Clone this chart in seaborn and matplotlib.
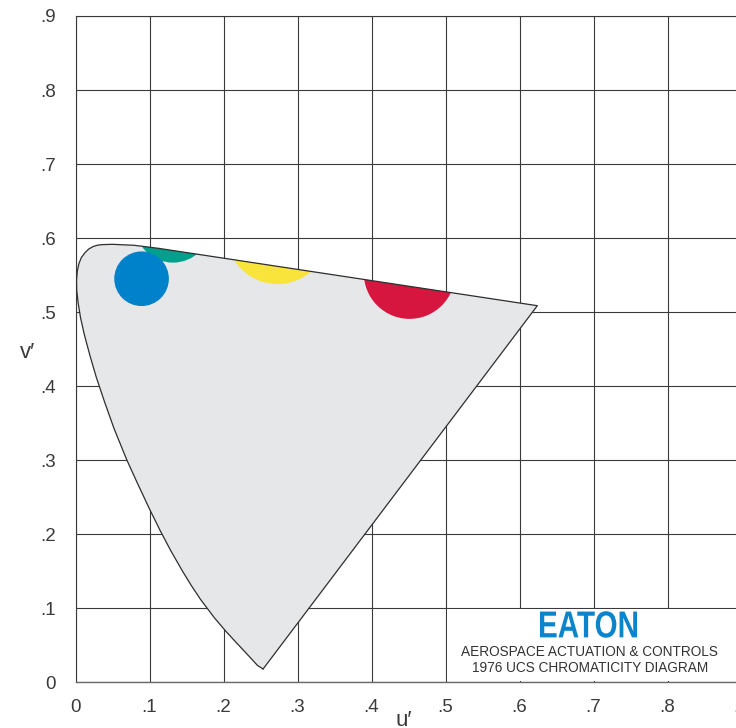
import matplotlib
matplotlib.use("Agg")
import matplotlib.pyplot as plt
from matplotlib.patches import Polygon, Circle, Rectangle
from matplotlib.patheffects import AbstractPathEffect
from matplotlib.transforms import Affine2D
import pandas as pd
import seaborn as sns

# Spectral locus of the CIE 1976 UCS diagram (u', v'), from the violet end
# up the blue/green edge and across to the red end.
locus_u = [0.2535, 0.2461, 0.2347, 0.2161, 0.2033, 0.1877, 0.1690, 0.1560,
           0.1441, 0.1288, 0.1147, 0.1007, 0.0828, 0.0692, 0.0521, 0.0398,
           0.0282, 0.0196, 0.0119, 0.0068, 0.0035, 0.0016, 0.0014, 0.0024,
           0.0046, 0.0078, 0.0125, 0.0178, 0.0240, 0.0300, 0.0365, 0.0501,
           0.0792, 0.1127, 0.6241]
locus_v = [0.0180, 0.0226, 0.0350, 0.0549, 0.0688, 0.0871, 0.1119, 0.1315,
           0.1510, 0.1777, 0.2044, 0.2327, 0.2708, 0.3007, 0.3427, 0.3772,
           0.4117, 0.4410, 0.4698, 0.4925, 0.5130, 0.5299, 0.5432, 0.5550,
           0.5655, 0.5735, 0.5800, 0.5852, 0.5887, 0.5905, 0.5912, 0.5916,
           0.5903, 0.5861, 0.5087]

# Colour regions (centre u', centre v', radius)
spot_names = ["green", "yellow", "red", "blue"]
spot_u = [0.1318, 0.2731, 0.4514, 0.0893]
spot_v = [0.6185, 0.6069, 0.5527, 0.5451]
spot_r = [0.0516, 0.0690, 0.0618, 0.0369]

tick_values = [0.0, 0.1, 0.2, 0.3, 0.4, 0.5, 0.6, 0.7, 0.8, 0.9]
tick_labels = ["0", ".1", ".2", ".3", ".4", ".5", ".6", ".7", ".8", ".9"]

spot_colors = {"green": "#00A08C", "yellow": "#F8E43A",
               "red": "#D7163F", "blue": "#0082CA"}


class Squeeze(AbstractPathEffect):
    """Draw text narrower by scaling it horizontally about a display x."""

    def __init__(self, sx, cx):
        super().__init__()
        self.sx = sx
        self.cx = cx

    def draw_path(self, renderer, gc, tpath, affine, rgbFace=None):
        squeeze = Affine2D().translate(-self.cx, 0).scale(self.sx, 1).translate(self.cx, 0)
        renderer.draw_path(gc, tpath, affine + squeeze, rgbFace)


sns.set_theme(style="white")
plt.rcParams["font.family"] = ["Liberation Sans", "DejaVu Sans"]

fig = plt.figure(figsize=(7.36, 7.28), dpi=100)
ax = fig.add_axes([75.5 / 736, 45.7 / 728, 666 / 736, 666.3 / 728])
ax.set_xlim(0, 0.9)
ax.set_ylim(0, 0.9)

# grid
ax.set_xticks(tick_values)
ax.set_yticks(tick_values)
ax.set_xticklabels(tick_labels)
ax.set_yticklabels(tick_labels)
ax.set_axisbelow(True)
ax.grid(True, color="#3a3a3a", linewidth=0.8)
ax.tick_params(length=0, labelsize=13.5, labelcolor="#3a3a3a")
ax.tick_params(axis="x", pad=12)
ax.tick_params(axis="y", pad=14)
for side in ["left", "top"]:
    ax.spines[side].set_color("#3a3a3a")
    ax.spines[side].set_linewidth(0.8)
ax.spines["bottom"].set_color("#6a6a6a")
ax.spines["bottom"].set_linewidth(1.0)
ax.spines["right"].set_visible(False)

# blank panel behind the caption
ax.add_patch(Rectangle((0.502, 0.0015), 0.6, 0.097, facecolor="white",
                       edgecolor="none", zorder=1))

# filled locus
pts = list(zip(locus_u, locus_v))
locus = Polygon(pts, closed=True, facecolor="#E6E7E8", edgecolor="none", zorder=2)
ax.add_patch(locus)

for name, u, v, r in zip(spot_names, spot_u, spot_v, spot_r):
    c = Circle((u, v), r, facecolor=spot_colors[name], edgecolor="none", zorder=3)
    ax.add_patch(c)
    c.set_clip_path(locus)

outline = pd.DataFrame({"u": locus_u + [locus_u[0]], "v": locus_v + [locus_v[0]]})
sns.lineplot(data=outline, x="u", y="v", sort=False, estimator=None,
             color="#2e2e2e", linewidth=0.9, ax=ax, zorder=4)
ax.set_xlabel("")
ax.set_ylabel("")

# axis titles
fig.text(28 / 736, 1 - 352 / 728, "v\u2032", fontsize=16, color="#3a3a3a",
         ha="center", va="center")
fig.text(404 / 736, 1 - 726.5 / 728, "u\u2032", fontsize=16, color="#3a3a3a",
         ha="center", va="baseline")

# caption block
logo_xy = (0.6932, 0.0742)
logo_cx = ax.transData.transform(logo_xy)[0]
ax.text(logo_xy[0], logo_xy[1], "EATON", fontsize=27, fontweight="bold",
        color="#0A84CC", ha="center", va="center", zorder=5,
        path_effects=[Squeeze(0.79, logo_cx)])
ax.text(0.6949, 0.0409, "AEROSPACE ACTUATION & CONTROLS", fontsize=9.8,
        color="#333333", ha="center", va="center", zorder=5)
ax.text(0.6953, 0.0189, "1976 UCS CHROMATICITY DIAGRAM", fontsize=9.8,
        color="#333333", ha="center", va="center", zorder=5)

fig.savefig("out.png", dpi=100, facecolor="white")
